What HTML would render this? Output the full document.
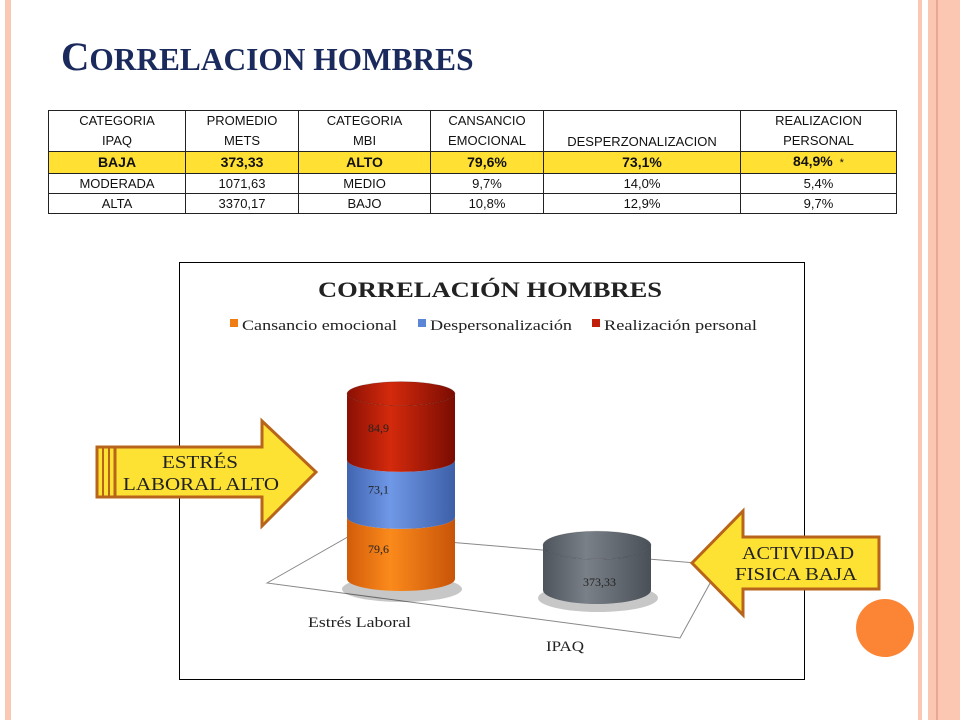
<!DOCTYPE html>
<html><head><meta charset="utf-8"><style>
body{margin:0;width:960px;height:720px;background:#fff;position:relative;overflow:hidden;font-family:"Liberation Sans",sans-serif}
.abs{position:absolute}
table{border-collapse:collapse;position:absolute;left:48px;top:110px;width:849px;font-size:13px;color:#111}
td{border:1px solid #222;text-align:center;padding:0;line-height:19px;height:19px}
tr.y td{background:#ffe033;font-weight:bold;font-size:14px}
</style></head><body>
<div class="abs" style="left:5px;top:0;width:6px;height:720px;background:#fbc8b4"></div>
<div class="abs" style="left:918px;top:0;width:4px;height:720px;background:#fbc8b4"></div>
<div class="abs" style="left:928px;top:0;width:32px;height:720px;background:#fcc7b2"></div>
<div class="abs" style="left:936px;top:0;width:2px;height:720px;background:#e9a890"></div>
<div class="abs" style="left:61px;top:33px;font-family:'Liberation Serif',serif;font-weight:bold;color:#1b2a5c;font-size:40px;white-space:nowrap;transform:scaleX(0.98);transform-origin:left">C<span style="font-size:32px">ORRELACION HOMBRES</span></div>
<table>
<tr><td style="width:136px;height:40px;line-height:20px">CATEGORIA<br>IPAQ</td><td style="width:112px;line-height:20px">PROMEDIO<br>METS</td><td style="width:131px;line-height:20px">CATEGORIA<br>MBI</td><td style="width:112px;line-height:20px">CANSANCIO<br>EMOCIONAL</td><td style="width:196px;vertical-align:bottom">DESPERZONALIZACION</td><td style="line-height:20px">REALIZACION<br>PERSONAL</td></tr>
<tr class="y"><td>BAJA</td><td>373,33</td><td>ALTO</td><td>79,6%</td><td>73,1%</td><td>84,9% <span style="font-weight:normal;font-size:11px">&nbsp;*</span></td></tr>
<tr><td>MODERADA</td><td>1071,63</td><td>MEDIO</td><td>9,7%</td><td>14,0%</td><td>5,4%</td></tr>
<tr><td>ALTA</td><td>3370,17</td><td>BAJO</td><td>10,8%</td><td>12,9%</td><td>9,7%</td></tr>
</table>
<svg class="abs" style="left:0;top:0" width="960" height="720">
<defs>
<linearGradient id="gr" x1="0" x2="1"><stop offset="0" stop-color="#8a1004"/><stop offset=".4" stop-color="#d42a0c"/><stop offset="1" stop-color="#7a0c02"/></linearGradient>
<linearGradient id="gb" x1="0" x2="1"><stop offset="0" stop-color="#4064b0"/><stop offset=".4" stop-color="#6f98e6"/><stop offset="1" stop-color="#3d5fa8"/></linearGradient>
<linearGradient id="go" x1="0" x2="1"><stop offset="0" stop-color="#d25c0a"/><stop offset=".4" stop-color="#fb8a1c"/><stop offset="1" stop-color="#c85408"/></linearGradient>
<linearGradient id="gg" x1="0" x2="1"><stop offset="0" stop-color="#4e545c"/><stop offset=".4" stop-color="#7a8088"/><stop offset="1" stop-color="#4a5058"/></linearGradient>
</defs>
<rect x="179.5" y="262.5" width="625" height="417" fill="#fff" stroke="#000"/>
<text x="318" y="297" textLength="344" lengthAdjust="spacingAndGlyphs" font-family="Liberation Serif,serif" font-weight="bold" font-size="22" fill="#222">CORRELACIÓN HOMBRES</text>
<g font-family="Liberation Serif,serif" font-size="15" fill="#222">
<rect x="230" y="319" width="8" height="8" fill="#f07c14"/><text x="242" y="330" textLength="155" lengthAdjust="spacingAndGlyphs">Cansancio emocional</text>
<rect x="418" y="319" width="8" height="8" fill="#5b86d6"/><text x="430" y="330" textLength="142" lengthAdjust="spacingAndGlyphs">Despersonalización</text>
<rect x="592" y="319" width="8" height="8" fill="#c0200a"/><text x="604" y="330" textLength="153" lengthAdjust="spacingAndGlyphs">Realización personal</text>
</g>
<polygon points="267,583 353,534 720,565 680,638" fill="none" stroke="#888" stroke-width="1"/>
<g id="bars"></g>
<text x="308" y="627" textLength="103" lengthAdjust="spacingAndGlyphs" font-family="Liberation Serif,serif" font-size="15" fill="#222">Estrés Laboral</text>
<text x="546" y="651" textLength="38" lengthAdjust="spacingAndGlyphs" font-family="Liberation Serif,serif" font-size="15" fill="#222">IPAQ</text>
<g>
<polygon points="115,447 262,447 262,421 316,472 262,526 262,497 115,497" fill="#fde234" stroke="#b8641a" stroke-width="3"/>
<rect x="97" y="447" width="18" height="50" fill="#fde234" stroke="#b8641a" stroke-width="3"/>
<line x1="103" y1="447" x2="103" y2="497" stroke="#b8641a" stroke-width="2"/><line x1="109" y1="447" x2="109" y2="497" stroke="#b8641a" stroke-width="2"/>
<text x="162" y="468" textLength="76" lengthAdjust="spacingAndGlyphs" font-family="Liberation Serif,serif" font-size="18" fill="#222">ESTRÉS</text>
<text x="123" y="490" textLength="156" lengthAdjust="spacingAndGlyphs" font-family="Liberation Serif,serif" font-size="18" fill="#222">LABORAL ALTO</text>
</g>
<g>
<polygon points="692,563 743,511 743,537 879,537 879,589 743,589 743,615" fill="#fde234" stroke="#b8641a" stroke-width="3"/>
<text x="742" y="559" textLength="112" lengthAdjust="spacingAndGlyphs" font-family="Liberation Serif,serif" font-size="18" fill="#222">ACTIVIDAD</text>
<text x="735" y="580" textLength="122" lengthAdjust="spacingAndGlyphs" font-family="Liberation Serif,serif" font-size="18" fill="#222">FISICA BAJA</text>
</g>
<circle cx="885" cy="628" r="29" fill="#fb8535"/>
</svg>
<script>
const stackLabels=["Cansancio emocional","Despersonalización","Realización personal"];
const stackValues=[79.6,73.1,84.9];
const stackFills=["url(#go)","url(#gb)","url(#gr)"];
const ipaqValue=[373.33];
const NS="http://www.w3.org/2000/svg";
const g=document.getElementById('bars');
const yStack=v=>v*0.78, yIpaq=v=>v*0.12;
function mk(t,a){const e=document.createElementNS(NS,t);for(const k in a)e.setAttribute(k,a[k]);g.appendChild(e);return e;}
function cyl(cx,base,h,fill,rx,ry,name,label,top){
 const e=mk('path',{d:`M${cx-rx},${base-h} L${cx-rx},${base} A${rx},${ry} 0 0 0 ${cx+rx},${base} L${cx+rx},${base-h} A${rx},${ry} 0 0 1 ${cx-rx},${base-h}Z`,fill:fill});
 
 
 if(top){const t=mk('ellipse',{cx:cx,cy:base-h,rx:rx,ry:ry,fill:fill,stroke:'rgba(0,0,0,0.15)'});
 
 }
 const tx=mk('text',{x:cx-33,y:base-h/2+5,'font-family':'Liberation Serif,serif','font-size':12,fill:'#222'});
 tx.textContent=label;
 
 
}
mk('ellipse',{cx:402,cy:589,rx:60,ry:13,fill:'rgba(0,0,0,0.22)'});
let base=579;
stackValues.forEach((v,i)=>{const h=yStack(v);cyl(401,base,h,stackFills[i],54,12,'bar-'+i,String(v).replace('.',','),i===stackValues.length-1);base-=h;});
mk('ellipse',{cx:598,cy:598,rx:60,ry:14,fill:'rgba(0,0,0,0.22)'});
cyl(597,590,yIpaq(ipaqValue[0]),'url(#gg)',54,14,'bar-ipaq','',true);
const t=mk('text',{x:583,y:586,'font-family':'Liberation Serif,serif','font-size':12,fill:'#222'});t.textContent=ipaqValue[0].toFixed(2).replace('.',',');


</script>
</body></html>
